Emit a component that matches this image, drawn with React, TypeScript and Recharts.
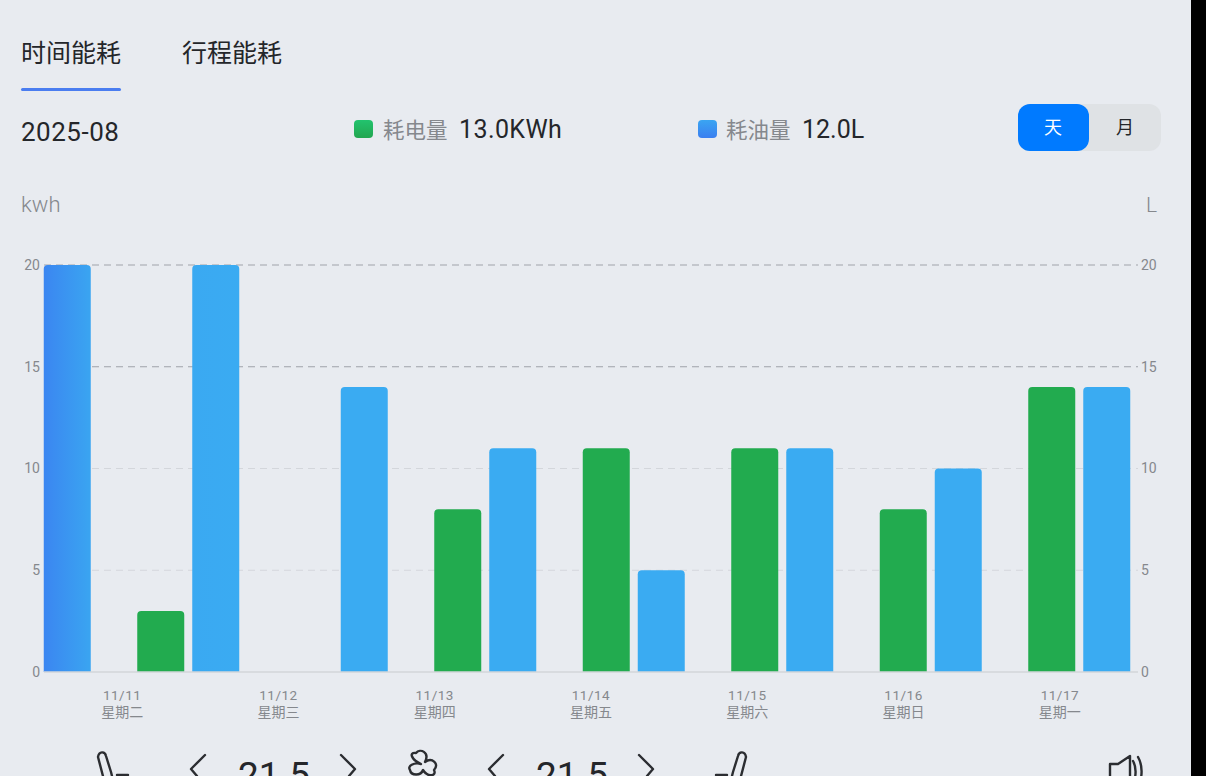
import { BarChart, Bar, XAxis, YAxis, CartesianGrid } from "recharts";

// the bars are scrolled: eight groups sit under seven date labels, first green one is off screen
const barSlots = ["11/10", "11/11", "11/12", "11/13", "11/14", "11/15", "11/16", "11/17"];
const electricity = [null, 3, 0, 8, 11, 11, 8, 14];
const fuel = [20, 20, 14, 11, 5, 11, 10, 14];

const dateLabels = ["11/11", "11/12", "11/13", "11/14", "11/15", "11/16", "11/17"];
const weekLabels = ["星期二", "星期三", "星期四", "星期五", "星期六", "星期日", "星期一"];
const dateTicks = [0.5, 1.5, 2.5, 3.5, 4.5, 5.5, 6.5];
const valueTicks = [0, 5, 10, 15, 20];
const darkGridValues = [15, 20];
const lightGridValues = [5, 10];

const chartData = barSlots.map((slot, i) => ({ slot, electricity: electricity[i], fuel: fuel[i] }));

const CJK = '"Noto Sans CJK SC", Roboto, sans-serif';
const LATIN = 'Roboto, "Noto Sans CJK SC", sans-serif';
const DARK = "#24262a";
const GREY = "#85888d";

const DateTick = ({ x, y, payload }: any) => {
  const i = Math.floor(payload.value);
  return (
    <g>
      <text x={x} y={y + 20} textAnchor="middle" fontSize={13.5} letterSpacing={0.5} fontFamily={LATIN} fill={GREY}>
        {dateLabels[i]}
      </text>
      <text x={x} y={y + 37} textAnchor="middle" fontSize={14} fontFamily={CJK} fill={GREY}>
        {weekLabels[i]}
      </text>
    </g>
  );
};

const Label = ({ x, y, size, color = DARK, font = CJK, weight = 400, spacing = 0, children }: any) => (
  <div
    style={{
      position: "absolute",
      left: x,
      top: y - size,
      height: size * 2,
      lineHeight: `${size * 2}px`,
      fontSize: size,
      color,
      fontFamily: font,
      fontWeight: weight,
      letterSpacing: spacing,
      whiteSpace: "nowrap",
    }}
  >
    {children}
  </div>
);

const Swatch = ({ x, from, to }: any) => (
  <div
    style={{
      position: "absolute",
      left: x,
      top: 120,
      width: 19,
      height: 18,
      borderRadius: 4,
      background: `linear-gradient(180deg, ${from}, ${to})`,
    }}
  />
);

const BottomIcons = () => (
  <svg
    width={1191}
    height={776}
    style={{ position: "absolute", left: 0, top: 0 }}
    fill="none"
    stroke="#2b2d31"
    strokeWidth={2.4}
    strokeLinecap="round"
    strokeLinejoin="round"
  >
    {/* seat left */}
    <path d="M98 757 C99 751 105 751 106 756 L111 772 L113 780 M98 757 L104 780 M117 775 L128 775" />
    {/* chevrons */}
    <path d="M205 755 L191 769 L197 776" />
    <path d="M341 755 L355 769 L349 776" />
    <path d="M503 755 L489 769 L495 776" />
    <path d="M639 755 L653 769 L647 776" />
    {/* fan */}
    <path d="M421 764 C412 760 408 752 416 753 C420 748 430 752 425 762 C432 757 440 764 434 770 C437 776 428 778 423 770 C421 776 411 776 410 770 C407 766 414 762 421 764 Z" />
    {/* seat right */}
    <path d="M746 757 C745 751 739 751 738 756 L733 772 L731 780 M746 757 L740 780 M727 775 L716 775" />
    {/* speaker */}
    <path d="M1110 764 L1118 764 L1130 756 L1130 780 M1110 764 L1110 780" />
    <path d="M1133 761 C1136 766 1136 772 1135 778" />
    <path d="M1138 757 C1142 764 1142 772 1141 778" />
  </svg>
);

const App = () => {
  return (
    <div
      style={{
        position: "fixed",
        left: 0,
        top: 0,
        width: 1206,
        height: 776,
        overflow: "hidden",
        background: "#e8ebf0",
      }}
    >
      <Label x={21} y={51} size={25}>时间能耗</Label>
      <Label x={182} y={51} size={25}>行程能耗</Label>
      <div style={{ position: "absolute", left: 21, top: 88, width: 100, height: 3, borderRadius: 2, background: "#4a7df0" }} />
      <Label x={21} y={132} size={26} font={LATIN} spacing={0.5}>2025-08</Label>

      <Swatch x={354} from="#22c36e" to="#22a650" />
      <Label x={383} y={128} size={21.5} color={GREY}>耗电量</Label>
      <Label x={459} y={130} size={25} font={LATIN} spacing={0.4}>13.0KWh</Label>
      <Swatch x={698} from="#3aa5f2" to="#3b7ff0" />
      <Label x={726} y={128} size={21.5} color={GREY}>耗油量</Label>
      <Label x={802} y={130} size={25} font={LATIN}>12.0L</Label>

      <div style={{ position: "absolute", left: 1018, top: 104, width: 143, height: 47, borderRadius: 12, background: "#dfe2e5" }} />
      <div style={{ position: "absolute", left: 1018, top: 104, width: 71, height: 47, borderRadius: 12, background: "#007aff" }} />
      <Label x={1044} y={126} size={18} color="#ffffff">天</Label>
      <Label x={1116} y={126} size={18}>月</Label>

      <Label x={21} y={205} size={22} color={GREY} font={LATIN} weight={300}>kwh</Label>
      <Label x={1146} y={205} size={21} color={GREY} font={LATIN} weight={300}>L</Label>

      <div style={{ position: "absolute", left: 0, top: 0 }}>
        <BarChart
          width={1191}
          height={742}
          data={chartData}
          barSize={47}
          barGap={8}
          margin={{ top: 265, right: 0, bottom: 0, left: 0 }}
        >
          <defs>
            <linearGradient id="fuelFill" gradientUnits="userSpaceOnUse" x1={44} y1={0} x2={240} y2={0}>
              <stop offset="0%" stopColor="#3b86f1" />
              <stop offset="24%" stopColor="#3aa5f1" />
              <stop offset="100%" stopColor="#3aabf2" />
            </linearGradient>
          </defs>
          <CartesianGrid
            yAxisId="left"
            xAxisId="dates"
            vertical={false}
            horizontalValues={darkGridValues}
            stroke="#9fa3a9"
            strokeWidth={1.2}
            strokeDasharray="7 5"
          />
          <CartesianGrid
            yAxisId="left"
            xAxisId="dates"
            vertical={false}
            horizontalValues={lightGridValues}
            stroke="#d3d6db"
            strokeWidth={1.2}
            strokeDasharray="7 5"
          />
          <XAxis
            xAxisId="dates"
            type="number"
            domain={[0, 7]}
            allowDataOverflow
            ticks={dateTicks}
            interval={0}
            height={70}
            tick={<DateTick />}
            tickLine={false}
            axisLine={{ stroke: "#d3d6da", strokeWidth: 1.5 }}
          />
          <XAxis
            xAxisId="bars"
            dataKey="slot"
            hide
            height={0}
            padding={{ left: -78.25, right: -15.75 }}
          />
          <YAxis
            yAxisId="left"
            orientation="left"
            width={44}
            domain={[0, 20]}
            ticks={valueTicks}
            tickLine={false}
            tickSize={4}
            axisLine={false}
            tickMargin={0}
            tick={{ fontSize: 14, fill: GREY, fontFamily: LATIN }}
          />
          <YAxis
            yAxisId="right"
            orientation="right"
            width={53}
            domain={[0, 20]}
            ticks={valueTicks}
            tickLine={false}
            tickSize={3}
            axisLine={false}
            tickMargin={0}
            tick={{ fontSize: 14, fill: GREY, fontFamily: LATIN }}
          />
          <Bar
            dataKey="electricity"
            xAxisId="bars"
            yAxisId="left"
            fill="#22ab4f"
            radius={[4, 4, 0, 0]}
            isAnimationActive={false}
          />
          <Bar
            dataKey="fuel"
            xAxisId="bars"
            yAxisId="right"
            fill="url(#fuelFill)"
            radius={[4, 4, 0, 0]}
            isAnimationActive={false}
          />
        </BarChart>
      </div>

      <BottomIcons />
      <Label x={238} y={776} size={37} font={LATIN}>21.5</Label>
      <Label x={536} y={776} size={37} font={LATIN}>21.5</Label>

      <div style={{ position: "absolute", left: 1191, top: 0, width: 15, height: 776, background: "#000000" }} />
    </div>
  );
};

export default App;
